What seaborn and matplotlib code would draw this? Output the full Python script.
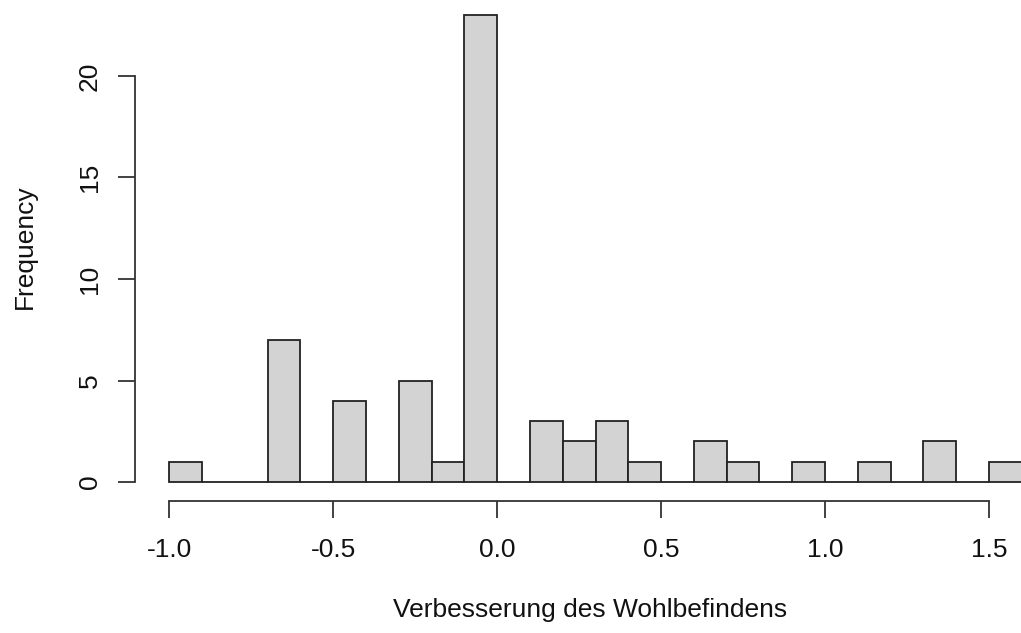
import matplotlib
matplotlib.use("Agg")
import matplotlib.pyplot as plt
import seaborn as sns
import numpy as np

# Histogram data (bin edges, width 0.1)
bin_edges = [-1.0, -0.9, -0.8, -0.7, -0.6, -0.5, -0.4, -0.3, -0.2, -0.1, 0.0,
             0.1, 0.2, 0.3, 0.4, 0.5, 0.6, 0.7, 0.8, 0.9, 1.0, 1.1, 1.2, 1.3,
             1.4, 1.5, 1.6]
counts = [1, 0, 0, 7, 0, 4, 0, 5, 1, 23, 0, 3, 2, 3, 1, 0, 2, 1, 0, 1, 0, 1, 0,
          2, 0, 1]
x_ticks = [-1.0, -0.5, 0.0, 0.5, 1.0, 1.5]
x_tick_labels = ["-1.0", "-0.5", "0.0", "0.5", "1.0", "1.5"]
y_ticks = [0, 5, 10, 15, 20]
x_label = "Verbesserung des Wohlbefindens"
y_label = "Frequency"

sns.set_theme(style="white")
plt.rcParams['font.family'] = ['Liberation Sans', 'DejaVu Sans']

W, H = 1021, 633
fig = plt.figure(figsize=(W / 100, H / 100), dpi=100)
# axes region in pixels (R-style 4% extension)
left_px, right_px = 135, 1056
top_px, bottom_px = -3.6, 500.7
ax = fig.add_axes([left_px / W, 1 - bottom_px / H,
                   (right_px - left_px) / W, (bottom_px - top_px) / H])

centers = [(bin_edges[i] + bin_edges[i + 1]) / 2 for i in range(len(counts))]
sns.histplot(x=centers, weights=counts, bins=bin_edges, ax=ax,
             color="#D3D3D3", alpha=1.0, edgecolor="#222222", linewidth=1.3)

xr = bin_edges[-1] - bin_edges[0]
ax.set_xlim(bin_edges[0] - 0.04 * xr, bin_edges[-1] + 0.04 * xr)
ymax = max(counts)
ax.set_ylim(-0.04 * ymax, ymax * 1.04)

for s in ["top", "right"]:
    ax.spines[s].set_visible(False)
for s in ["left", "bottom"]:
    ax.spines[s].set_color("#333333")
    ax.spines[s].set_linewidth(1.3)
ax.spines["left"].set_bounds(0, 20)
ax.spines["bottom"].set_bounds(-1.0, 1.5)

ax.set_xticks(x_ticks)
ax.set_xticklabels(x_tick_labels)
ax.set_yticks(y_ticks)
ax.set_yticklabels([str(v) for v in y_ticks], rotation=90, va="center")
ax.tick_params(axis="both", direction="out", length=12, width=1.3,
               color="#333333", labelsize=19, labelcolor="#111111",
               bottom=True, left=True)
ax.tick_params(axis="x", pad=15)
ax.tick_params(axis="y", pad=12)

ax.set_xlabel(x_label, fontsize=19, color="#111111")
ax.set_ylabel(y_label, fontsize=19, color="#111111")
ax.xaxis.set_label_coords((590 - left_px) / (right_px - left_px), -0.193)
ax.yaxis.set_label_coords(-0.106, (bottom_px - 247) / (bottom_px - top_px))
ax.grid(False)

fig.savefig("out.png", dpi=100, facecolor="white")
